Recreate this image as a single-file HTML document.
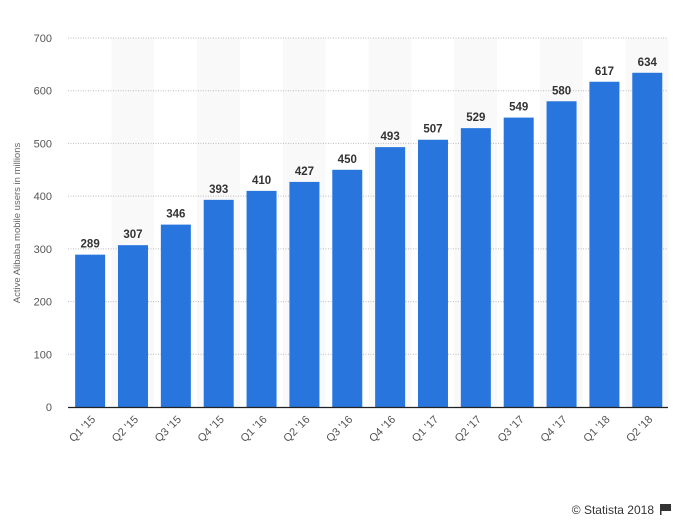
<!DOCTYPE html>
<html><head><meta charset="utf-8">
<style>
body{margin:0;background:#fff;font-family:"Liberation Sans",sans-serif;}
</style></head>
<body>
<svg id="chart" width="680" height="525" xmlns="http://www.w3.org/2000/svg" font-family="Liberation Sans, sans-serif">
<g id="bands"></g>
<g id="grid"></g>
<g id="bars"></g>
<g id="labels"></g>
<g id="xticks"></g>
<line x1="68" x2="668" y1="407.5" y2="407.5" stroke="#222" stroke-width="1.2"/>
<text transform="translate(20,223) rotate(-90)" text-anchor="middle" font-size="9.5" fill="#666">Active Alibaba mobile users in millions</text>
<text x="654" y="514" text-anchor="end" font-size="12" fill="#333">© Statista 2018</text>
<g><rect x="660" y="504" width="1.5" height="11" fill="#333"/><path d="M661.5 504 L671 504 L671 511 L661.5 511 Z" fill="#333"/></g>
</svg>
<script>
const categories=["Q1 '15","Q2 '15","Q3 '15","Q4 '15","Q1 '16","Q2 '16","Q3 '16","Q4 '16","Q1 '17","Q2 '17","Q3 '17","Q4 '17","Q1 '18","Q2 '18"];
const values=[289,307,346,393,410,427,450,493,507,529,549,580,617,634];
const yTicks=[0,100,200,300,400,500,600,700];
const NS="http://www.w3.org/2000/svg";
const x0=68,plotW=600,y0=407,yTop=38,yMax=700;
const step=plotW/categories.length,bw=30;
const y=v=>y0-(v/yMax)*(y0-yTop);
const xs=i=>x0+i*step;
function mk(tag,attrs,parent){const e=document.createElementNS(NS,tag);for(const k in attrs)e.setAttribute(k,attrs[k]);document.getElementById(parent).appendChild(e);return e;}
categories.forEach((c,i)=>{
 if(i%2===1){const b=mk('rect',{x:xs(i)+0.5,y:yTop,width:step,height:y0-yTop,fill:'#f9f9f9'},'bands');
 
 }
});
yTicks.forEach(t=>{
 if(t>0){const l=mk('line',{x1:x0,x2:x0+plotW,y1:y(t),y2:y(t),stroke:'#bbb','stroke-dasharray':'1,1.5','stroke-width':1},'grid');
 
 }
 const tx=mk('text',{x:52,y:y(t)+4,'text-anchor':'end','font-size':11,fill:'#555'},'grid');
 tx.textContent=t;
 
 
});
values.forEach((v,i)=>{
 const bx=xs(i)+(step-bw)/2+0.7;
 const r=mk('rect',{x:bx,y:y(v),width:bw,height:y0-y(v),fill:'#2876dd'},'bars');
 
 
 const t=mk('text',{x:bx+bw/2,y:y(v)-7,'text-anchor':'middle','font-size':11.5,'font-weight':'bold',fill:'#333'},'labels');
 t.textContent=v;
 
 
 const cx=bx+bw/2+6;
 const xt=mk('text',{transform:`translate(${cx},420) rotate(-45)`,'text-anchor':'end','font-size':11,fill:'#555'},'xticks');
 xt.textContent=categories[i];
 
 
});
</script>
</body></html>
